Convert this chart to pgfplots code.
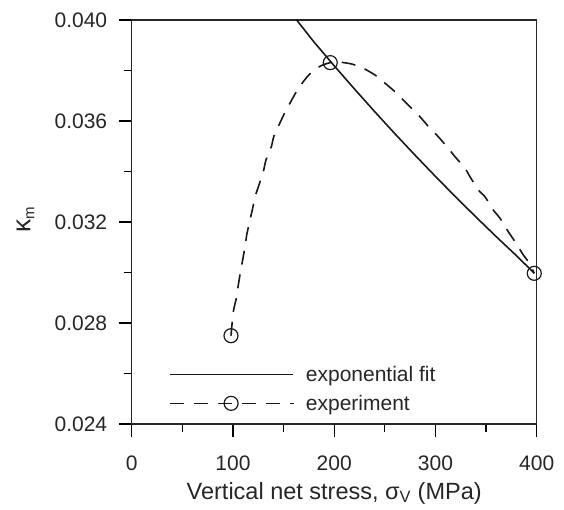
\documentclass[border=0pt]{standalone}
\usepackage{fontspec}
\setmainfont{Liberation Sans}
\usepackage{pgfplots}
\pgfplotsset{compat=1.18}

% long legend samples
\pgfplotsset{
  longline/.style={legend image code/.code={\draw[##1] (0pt,0pt) -- (123pt,0pt);}},
  longmarkline/.style={legend image code/.code={\draw[##1, mark indices={2}]
     plot coordinates {(0pt,0pt) (61pt,0pt) (123pt,0pt)};}},
}

\begin{document}
\begin{tikzpicture}[font=\fontsize{21}{25}\selectfont]
\begin{axis}[
  name=ax,
  scale only axis,
  width=405pt, height=404pt,
  xmin=0, xmax=400,
  ymin=0.024, ymax=0.040,
  xtick={0,100,200,300,400},
  ytick={0.024,0.028,0.032,0.036,0.040},
  minor tick num=1,
  tick style={line width=1.3pt, black},
  tick pos=left,
  xtick align=outside,
  ytick align=outside,
  major tick length=13pt,
  minor tick length=8pt,
  axis line style={line width=1.2pt, black!85},
  tick label style={font=\fontsize{21}{25}\selectfont, black!85},
  yticklabel style={anchor=east, xshift=-8pt},
  xticklabel style={yshift=-15pt},
  /pgf/number format/assume math mode=true,
  yticklabel style={/pgf/number format/.cd, fixed, fixed zerofill, precision=3},
  scaled y ticks=false,
  xlabel={Vertical net stress, σ\textsubscript{V} (MPa)},
  xlabel style={font=\fontsize{23.5}{28}\selectfont, black!85,
    at={(axis description cs:0.5,0)}, anchor=center, yshift=-69pt},
  ylabel={κ\raisebox{-4pt}{\fontsize{15}{15}\selectfont m}},
  ylabel style={font=\fontsize{26}{30}\selectfont, black!85,
    at={(axis description cs:-0.262,0.505)}, anchor=center},
  legend style={at={(0.085,0.02)}, anchor=south west, draw=none, fill=none,
    row sep=8pt, font=\fontsize{21}{25}\selectfont, text=black!85,
    /tikz/every odd column/.append style={column sep=10pt}},
  legend cell align=left,
]
% exponential fit of the stiffness parameter
\addplot[line width=1.6pt, black!90, longline]
  coordinates {
  (162.9,0.040000) (180,0.039130) (200,0.038187) (220,0.037268)
  (240,0.036370) (260,0.035494) (280,0.034640) (300,0.033805)
  (320,0.032991) (340,0.032197) (360,0.031421) (380,0.030665)
  (397.6,0.029970)
};
\addlegendentry{exponential fit}

% measured values (points 1, 25 and 49) joined by a dashed curve
\addplot[line width=1.6pt, black!90, dash pattern=on 14pt off 10pt,
  smooth, tension=0.4,
  mark=o, mark size=7pt, mark indices={1,25,49},
  mark options={solid, line width=1.2pt}, longmarkline]
  coordinates {
  (98.07,0.027497) (100.35,0.028447) (103.7,0.029042) (105.3,0.029505)
  (107.65,0.030071) (109.6,0.030495) (111.9,0.031022) (113.6,0.031485)
  (116.8,0.032079) (119.1,0.032475) (122.1,0.033030) (125.7,0.033465)
  (130.0,0.033992) (132.6,0.034455) (137.9,0.034982) (140.5,0.035406)
  (146.5,0.035933) (151.4,0.036345) (158.0,0.036832) (163.0,0.037182)
  (169.5,0.037559) (175.0,0.037823) (181.0,0.038039) (188.0,0.038207)
  (196.1,0.038312) (204.0,0.038340) (217.3,0.038257) (228.7,0.038087)
  (240.3,0.037822) (248.5,0.037556) (260.0,0.037160) (268.2,0.036832)
  (278.1,0.036436) (284.7,0.036170) (294.6,0.035711) (302.8,0.035378)
  (312.7,0.034919) (319.3,0.034586) (329.2,0.034127) (334.1,0.033794)
  (342.3,0.033267) (348.9,0.033002) (357.1,0.032475) (363.8,0.032147)
  (371.9,0.031616) (378.6,0.031220) (386.8,0.030693) (391.7,0.030428)
  (397.6,0.029968)
};
\addlegendentry{experiment}
\end{axis}
\path ([xshift=-131.7pt,yshift=-86pt]ax.south west) rectangle ([xshift=27.3pt,yshift=20pt]ax.north east);
\end{tikzpicture}
\end{document}
